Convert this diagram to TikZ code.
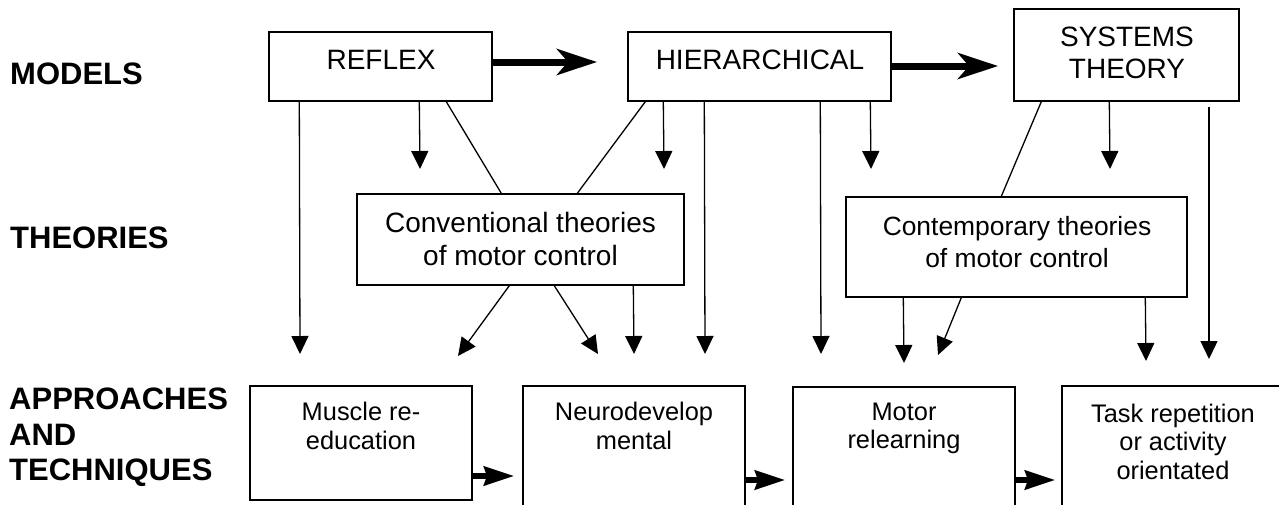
\documentclass[tikz,border=0pt]{standalone}
\usepackage{fontspec}
\setmainfont{Liberation Sans}
\usetikzlibrary{arrows.meta}
\begin{document}
\begin{tikzpicture}[x=1pt,y=-1pt,
  box/.style={draw, line width=1.4pt, inner sep=0pt},
  txt/.style={align=center, inner sep=0pt},
  bigtxt/.style={txt, font=\fontsize{28}{32}\selectfont},
  midtxt/.style={txt, font=\fontsize{28}{33}\selectfont},
  contxt/.style={txt, font=\fontsize{26.4}{32}\selectfont},
  smtxt/.style={txt, font=\fontsize{25.4}{28.5}\selectfont},
  lbl/.style={anchor=west, align=left, inner sep=0pt, font=\fontsize{31}{35.5}\selectfont\bfseries},
  conn/.style={line width=1.3pt},
  arr/.style={line width=1.3pt, -{Triangle[length=18pt,width=17pt]}},
  bigarr/.style={line width=7pt, -{Stealth[length=40pt,width=26pt,inset=11pt]}},
  medarr/.style={line width=5.5pt, -{Stealth[length=30pt,width=19pt,inset=3pt]}},
]
\useasboundingbox (0,0) rectangle (1279,504);
\clip (0,0) rectangle (1279,504);

% row labels
\node[lbl] (lmodels) at (10,74) {MODELS};
\node[lbl] (ltheories) at (10,238) {THEORIES};
\node[lbl] (lapproaches) at (9,437.5) {APPROACHES\\AND\\TECHNIQUES};

% models
\node[box, minimum width=223pt, minimum height=69pt] (reflex) at (380.5,66.5) {};
\node[bigtxt] (reflexT) at (381,60) {REFLEX};
\node[box, minimum width=263pt, minimum height=69pt] (hier) at (759.5,66.5) {};
\node[bigtxt] (hierT) at (760,60) {HIERARCHICAL};
\node[box, minimum width=225pt, minimum height=92pt] (sys) at (1126.5,55) {};
\node[bigtxt] (sysT) at (1127,53) {SYSTEMS\\THEORY};

% theories
\node[box, minimum width=327pt, minimum height=91pt] (conv) at (520.5,239.5) {};
\node[midtxt] (convT) at (520.5,238.5) {Conventional theories\\of motor control};
\node[box, minimum width=341pt, minimum height=100pt] (cont) at (1016.5,247) {};
\node[contxt] (contT) at (1017,242) {Contemporary theories\\of motor control};

% approaches
\node[box, minimum width=222pt, minimum height=114pt] (muscle) at (361,443) {};
\node[smtxt] (muscleT) at (361,426) {Muscle re-\\education};
\node[box, minimum width=222pt, minimum height=126pt] (neuro) at (634,449) {};
\node[smtxt] (neuroT) at (634,426) {Neurodevelop\\mental};
\node[box, minimum width=222pt, minimum height=125pt] (motor) at (904,449.5) {};
\node[smtxt] (motorT) at (904,428.5) {Motor\\relearning};
\node[box, minimum width=222pt, minimum height=126pt] (task) at (1173,449) {};
\node[smtxt] (taskT) at (1173,441.5) {Task repetition\\or activity\\orientated};

% free arrow ends
\coordinate (m1) at (597,62);
\coordinate (m2) at (998,66);
\coordinate (t300) at (300,354);
\coordinate (t420) at (420,169);
\coordinate (t664) at (664,169);
\coordinate (t705) at (705,354);
\coordinate (t821) at (821,354);
\coordinate (t871) at (871,169);
\coordinate (t1110) at (1110,169);
\coordinate (s1209) at (1209,107);
\coordinate (t1209) at (1209,359);
\coordinate (t459) at (458,356);
\coordinate (t597) at (598,354);
\coordinate (t634) at (634,354);
\coordinate (t904) at (904,363);
\coordinate (t939) at (938,355);
\coordinate (t1146) at (1146,361);
\coordinate (b1) at (514,476);
\coordinate (b2) at (785,480);
\coordinate (b3) at (1055,480);

% model progression
\draw[bigarr] ([yshift=4.5pt]reflex.east) -- (m1);
\draw[bigarr] ([yshift=0.5pt]hier.east) -- (m2);

% from reflex
\draw[arr] ([xshift=31pt]reflex.south west) -- (t300);
\draw[arr] ([xshift=151pt]reflex.south west) -- (t420);
\draw[conn] ([xshift=178pt]reflex.south west) -- ([xshift=145pt]conv.north west);

% from hierarchical
\draw[conn] ([xshift=18pt]hier.south west) -- ([xshift=221pt]conv.north west);
\draw[arr] ([xshift=36pt]hier.south west) -- (t664);
\draw[arr] ([xshift=77pt]hier.south west) -- (t705);
\draw[arr] ([xshift=193pt]hier.south west) -- (t821);
\draw[arr] ([xshift=243pt]hier.south west) -- (t871);

% from systems theory
\draw[conn] ([xshift=28pt]sys.south west) -- ([xshift=156pt]cont.north west);
\draw[arr] ([xshift=96pt]sys.south west) -- (t1110);
\draw[arr] (s1209) -- (t1209);

% from conventional theories
\draw[arr] ([xshift=153pt]conv.south west) -- (t459);
\draw[arr] ([xshift=198pt]conv.south west) -- (t597);
\draw[arr] ([xshift=277pt]conv.south west) -- (t634);

% from contemporary theories
\draw[arr] ([xshift=58pt]cont.south west) -- (t904);
\draw[arr] ([xshift=116pt]cont.south west) -- (t939);
\draw[arr] ([xshift=300pt]cont.south west) -- (t1146);

% approach progression
\draw[medarr] ([yshift=-33pt]muscle.east) -- (b1);
\draw[medarr] ([yshift=-31pt]neuro.east) -- (b2);
\draw[medarr] ([yshift=-30.5pt]motor.east) -- (b3);
\end{tikzpicture}
\end{document}
